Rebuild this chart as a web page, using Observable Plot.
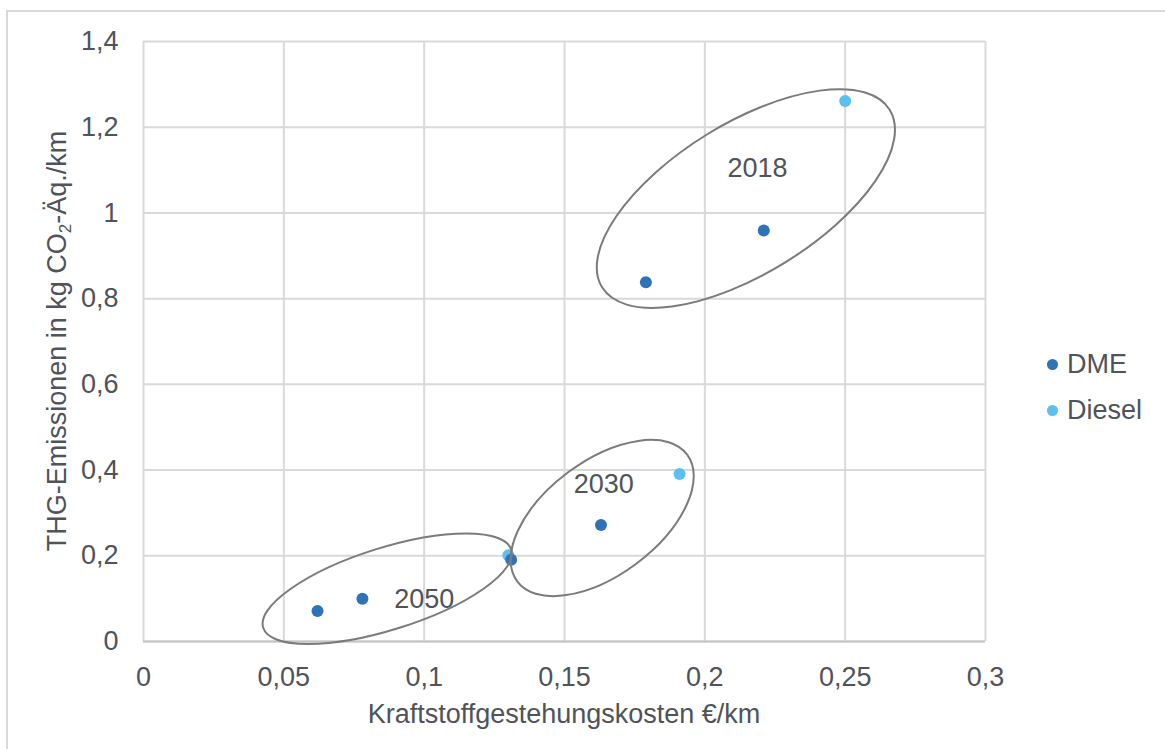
<!DOCTYPE html>
<html lang="de">
<head>
<meta charset="utf-8">
<script src="https://cdn.jsdelivr.net/npm/d3@7"></script>
<script src="https://cdn.jsdelivr.net/npm/@observablehq/plot@0.6"></script>
<style>
  html, body { margin: 0; padding: 0; background: #fff; }
  #wrap { position: relative; width: 1165px; height: 749px; overflow: hidden;
          font-family: "Liberation Sans", Arial, sans-serif; color: #505359; }
  #frame { position: absolute; left: 6px; top: 10px; right: -4px; bottom: -4px;
           border-top: 2px solid #d9d9d9; border-left: 2px solid #d9d9d9; pointer-events: none; }
  #chart { position: absolute; left: 0; top: 0; }
  #legend { position: absolute; left: 1047px; top: 341px; font-size: 27px; line-height: 46px; }
  #legend .item { display: flex; align-items: center; height: 46px; }
  #legend .sw { width: 11px; height: 11px; border-radius: 50%; margin-right: 9px; }
</style>
</head>
<body>
<div id="wrap">
  <div id="frame"></div>
  <div id="chart"></div>
  <div id="legend"></div>
</div>
<script>
// Fuel production cost (€/km) vs. GHG emissions (kg CO2-eq./km)
const series = ["DME", "Diesel"];
const seriesColors = ["#2e72b8", "#5bc0ee"];

const dmeCost      = [0.062, 0.078, 0.131, 0.163, 0.179, 0.221];
const dmeEmission  = [0.071, 0.100, 0.191, 0.272, 0.838, 0.959];
const dieselCost     = [0.130, 0.191, 0.250];
const dieselEmission = [0.201, 0.391, 1.261];

const xTicks = [0, 0.05, 0.1, 0.15, 0.2, 0.25, 0.3];
const yTicks = [0, 0.2, 0.4, 0.6, 0.8, 1, 1.2, 1.4];

// Year groups: label text and the point it is written at
const yearLabels = ["2018", "2030", "2050"];
const yearLabelX = [0.2188, 0.1640, 0.1000];
const yearLabelY = [1.104, 0.3656, 0.0973];

// Outline around each year group: centre in data units, radii in px, tilt in degrees
const yearOutlines = [
  {cx: 0.2148, cy: 1.0324, rx: 169, ry: 75, angle: -31.7},
  {cx: 0.1636, cy: 0.2870, rx: 106, ry: 57, angle: -36.7},
  {cx: 0.0870, cy: 0.1220, rx: 130, ry: 41, angle: -17.5}
];

const points = [
  ...dieselCost.map((c, i) => ({series: "Diesel", cost: c, emission: dieselEmission[i]})),
  ...dmeCost.map((c, i) => ({series: "DME", cost: c, emission: dmeEmission[i]}))
];
const labels = yearLabels.map((t, i) => ({text: t, x: yearLabelX[i], y: yearLabelY[i]}));

const comma = d => String(d).replace(".", ",");

// Tilted ellipses placed through the x/y scales
const outlineMark = (index, scales) => {
  const g = d3.create("svg:g")
    .attr("fill", "none")
    .attr("stroke", "#7b7b7b")
    .attr("stroke-width", 2);
  for (const e of yearOutlines) {
    g.append("ellipse")
      .attr("transform", `translate(${scales.x(e.cx)},${scales.y(e.cy)}) rotate(${e.angle})`)
      .attr("rx", e.rx)
      .attr("ry", e.ry);
  }
  return g.node();
};

const chart = Plot.plot({
  width: 1165,
  height: 749,
  marginLeft: 143,
  marginRight: 180,
  marginTop: 41,
  marginBottom: 108,
  style: {fontFamily: "'Liberation Sans', Arial, sans-serif", fontSize: "27px", color: "#505359", background: "transparent"},
  x: {domain: [0, 0.3]},
  y: {domain: [0, 1.4]},
  color: {domain: series, range: seriesColors},
  marks: [
    Plot.gridX(xTicks, {stroke: "#d9d9d9", strokeOpacity: 1, strokeWidth: 2}),
    Plot.gridY(yTicks, {stroke: "#d9d9d9", strokeOpacity: 1, strokeWidth: 2}),
    Plot.ruleY([0], {stroke: "#c4c4c4", strokeWidth: 2}),
    Plot.axisX({ticks: xTicks, tickFormat: comma, tickSize: 0, tickPadding: 25, label: null}),
    Plot.axisY({ticks: yTicks, tickFormat: comma, tickSize: 0, tickPadding: 25, label: null}),
    Plot.dot(points, {x: "cost", y: "emission", fill: "series", r: 6}),
    Plot.text(labels, {x: "x", y: "y", text: "text", fontSize: 27, fill: "#505359"}),
    outlineMark
  ]
});

// Axis titles (the y title carries a subscript)
const svg = d3.select(chart);
svg.append("text")
  .attr("x", 564).attr("y", 723)
  .attr("text-anchor", "middle")
  .attr("fill", "#505359")
  .attr("font-size", 27)
  .text("Kraftstoffgestehungskosten €/km");

const yTitle = svg.append("text")
  .attr("transform", "translate(66,341) rotate(-90)")
  .attr("text-anchor", "middle")
  .attr("fill", "#505359")
  .attr("font-size", 27);
yTitle.append("tspan").text("THG-Emissionen in kg CO");
yTitle.append("tspan").attr("font-size", 17).attr("dy", 5).text("2");
yTitle.append("tspan").attr("dy", -5).text("-Äq./km");

document.getElementById("chart").append(chart);

// Legend
const legend = d3.select("#legend");
series.forEach((s, i) => {
  const item = legend.append("div").attr("class", "item");
  item.append("span").attr("class", "sw").style("background", seriesColors[i]);
  item.append("span").text(s);
});
</script>
</body>
</html>
